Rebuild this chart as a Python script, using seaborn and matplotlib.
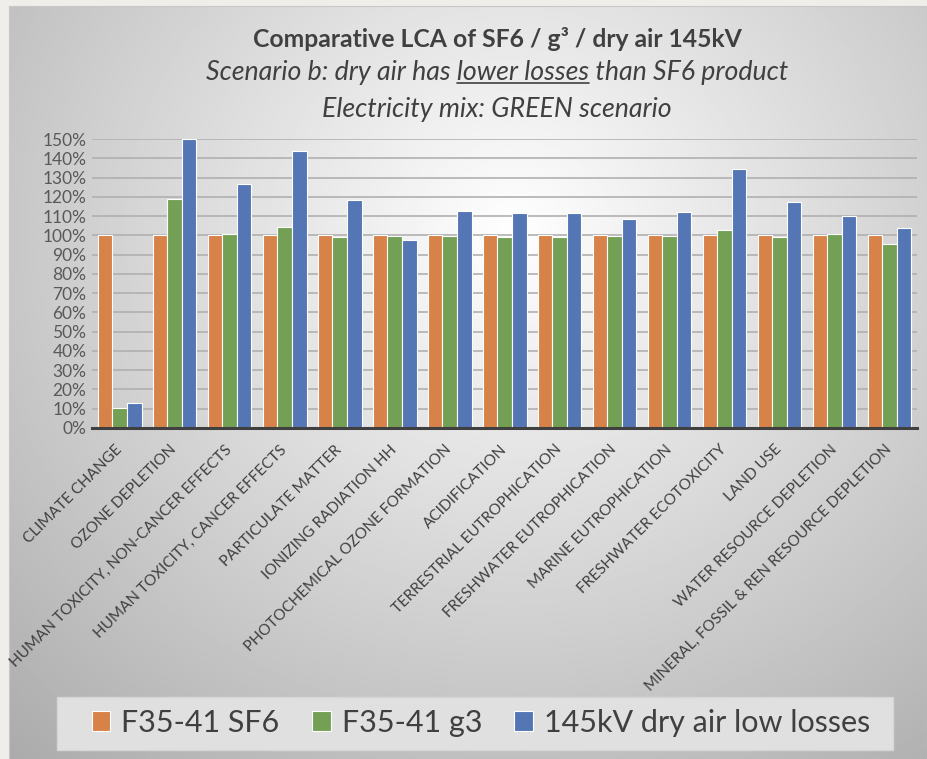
import numpy as np
import pandas as pd
import seaborn as sns
import matplotlib.pyplot as plt
from matplotlib.ticker import PercentFormatter, MultipleLocator
from matplotlib.lines import Line2D
from matplotlib.patches import Rectangle

# categories and values (percent of SF6 reference)
categories = ["CLIMATE CHANGE", "OZONE DEPLETION", "HUMAN TOXICITY, NON-CANCER EFFECTS",
              "HUMAN TOXICITY, CANCER EFFECTS", "PARTICULATE MATTER", "IONIZING RADIATION HH",
              "PHOTOCHEMICAL OZONE FORMATION", "ACIDIFICATION", "TERRESTRIAL EUTROPHICATION",
              "FRESHWATER EUTROPHICATION", "MARINE EUTROPHICATION", "FRESHWATER ECOTOXICITY",
              "LAND USE", "WATER RESOURCE DEPLETION", "MINERAL, FOSSIL & REN RESOURCE DEPLETION"]
series_names = ["F35-41 SF6", "F35-41 g3", "145kV dry air low losses"]
sf6 = [100, 100, 100, 100, 100, 100, 100, 100, 100, 100, 100, 100, 100, 100, 100]
g3 = [10.4, 118.7, 100.9, 104.3, 99.3, 99.8, 99.8, 99.3, 99.3, 99.8, 99.8, 103.0, 99.0, 100.9, 95.7]
dry_air = [12.8, 150.0, 126.7, 143.7, 118.2, 97.6, 112.5, 111.5, 111.5, 108.3, 112.3, 134.4, 117.2, 110.2, 104.0]
colors = ["#ED7D31", "#70AD47", "#4472C4"]

df = pd.DataFrame({"category": categories * 3,
                   "series": np.repeat(series_names, len(categories)),
                   "value": sf6 + g3 + dry_air})

sns.set_style("white")
plt.rcParams["font.family"] = ["Lato", "DejaVu Sans"]
txt = "#404040"

fig = plt.figure(figsize=(9.27, 7.59), dpi=100)
fig.patch.set_facecolor("#efeeea")

# gradient background of the chart area
bg = fig.add_axes([9 / 927, 0, 1 - 9 / 927, 1 - 6 / 759], zorder=-5)
yy, xx = np.mgrid[-1:1:300j, -1:1:300j]
r = np.sqrt(((xx - 0.1) * 0.9) ** 2 + ((yy + 0.4) * 0.8) ** 2)
grad = np.clip(1.0 - 0.22 * r, 0, 1)
bg.imshow(grad, cmap="gray", vmin=0, vmax=1, aspect="auto", extent=[0, 1, 0, 1])
bg.set_xticks([]); bg.set_yticks([])
for s in bg.spines.values():
    s.set_color("#c8c8c8")

ax = fig.add_axes([92 / 927, 1 - 428 / 759, (917 - 92) / 927, (428 - 139) / 759])
ax.patch.set_alpha(0)
sns.barplot(data=df, x="category", y="value", hue="series", palette=colors,
            width=0.8, edgecolor="white", linewidth=0.8, ax=ax, legend=True)
ax.set_ylim(0, 150)
ax.yaxis.set_major_locator(MultipleLocator(10))
ax.yaxis.set_major_formatter(PercentFormatter(decimals=0))
ax.grid(axis="y", color="#b0b0b0", lw=1.2)
ax.set_axisbelow(True)
for side in ["left", "right", "top"]:
    ax.spines[side].set_visible(False)
ax.spines["bottom"].set_color("#404040")
ax.spines["bottom"].set_linewidth(2.2)
ax.set_xlabel("")
ax.set_ylabel("")
ax.tick_params(axis="y", labelsize=12.5, labelcolor="#595959", length=0, pad=4)
ax.tick_params(axis="x", length=0, pad=14)
ax.set_xticks(range(len(categories)))
ax.set_xticklabels(categories, rotation=45, ha="right", va="center", rotation_mode="anchor",
                   fontsize=11, color=txt)

# legend with its own box
handles, labels = ax.get_legend_handles_labels()
ax.legend_.remove()
fig.patches.append(Rectangle((57 / 927, 1 - 750 / 759), (893 - 57) / 927, 53 / 759,
                             transform=fig.transFigure, facecolor="#e0e0e0",
                             edgecolor="#d6d6d6", lw=1, zorder=1))
leg = fig.legend(handles, labels, loc="center", bbox_to_anchor=(481 / 927, 1 - 723 / 759),
                 ncol=3, fontsize=22, frameon=False, handlelength=0.62,
                 handleheight=0.62, handletextpad=0.36, columnspacing=1.05)
leg.set_zorder(2)
for t in leg.get_texts():
    t.set_color(txt)

cx = 497 / 927
fig.text(cx, 1 - 47 / 759, "Comparative LCA of SF6 / g³ / dry air 145kV", ha="center",
         va="baseline", fontsize=17.8, fontweight="bold", color=txt)
sub_kw = dict(fontsize=19.3, style="italic", color=txt, va="baseline")
sub = fig.text(cx, 1 - 80 / 759, "Scenario b: dry air has lower losses than SF6 product",
               ha="center", **sub_kw)
fig.text(cx, 1 - 117 / 759, "Electricity mix: GREEN scenario", ha="center", **sub_kw)

# underline "lower losses"
fig.canvas.draw()
rend = fig.canvas.get_renderer()
full = sub.get_window_extent(rend)
pre = fig.text(0, 0, "Scenario b: dry air has ", **sub_kw)
mid = fig.text(0, 0, "lower losses", **sub_kw)
x0 = full.x0 + pre.get_window_extent(rend).width
x1 = x0 + mid.get_window_extent(rend).width
pre.remove(); mid.remove()
yl = (1 - 83 / 759)
fig.add_artist(Line2D([x0 / fig.bbox.width, x1 / fig.bbox.width], [yl, yl], color=txt, lw=1.2))

fig.savefig("out.png", dpi=100, facecolor=fig.get_facecolor())
